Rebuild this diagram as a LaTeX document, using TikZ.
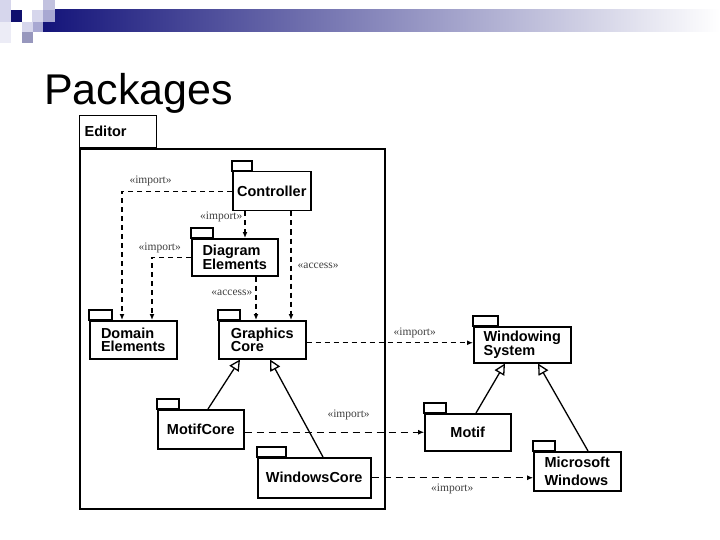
\documentclass[tikz,border=0pt]{standalone}
\usepackage{fontspec}
\setmainfont{Liberation Sans}
\newfontfamily\lblfont{Liberation Serif}
\usetikzlibrary{arrows.meta,calc}
\definecolor{barnavy}{HTML}{14147A}
\definecolor{sqdark}{HTML}{10106E}
\definecolor{sqmid}{HTML}{A8A8D2}
\definecolor{sqlight}{HTML}{D6D6EC}
\definecolor{sqpale}{HTML}{ECECF6}
\tikzset{
  >=Latex,
  title/.style={anchor=base west,inner sep=0pt,font=\fontsize{43}{43}\selectfont},
  edbox/.style={draw,line width=1.7pt,anchor=north west,inner sep=0pt},
  edtab/.style={draw,line width=1.4pt,anchor=south west,align=left,inner xsep=5pt,text width=67pt,
    font=\fontsize{14.5}{14}\selectfont\bfseries},
  pkg/.style={draw,line width=1.5pt,fill=white,anchor=north west,align=left,inner sep=2pt,
    font=\fontsize{14.5}{13.5}\selectfont\bfseries},
  pkgtab/.style={draw,line width=1.1pt,fill=white},
  dep/.style={-{Latex[length=6pt,width=5pt]},line width=1.4pt,dash pattern=on 5pt off 4pt},
  thindep/.style={-{Latex[length=6pt,width=5pt]},line width=0.8pt,dash pattern=on 7pt off 5pt},
  gen/.style={-{Triangle[open,length=11pt,width=11pt]},line width=1.3pt},
  lbl/.style={font=\lblfont\fontsize{11.5}{11.5}\selectfont,text=black!75,inner sep=1pt},
}
\begin{document}
\begin{tikzpicture}[x=1pt,y=-1pt]
\useasboundingbox (0,0) rectangle (720,540);
% slide header
\shade[left color=barnavy,right color=white] (43,10) rectangle (720,32);
\fill[sqlight] (0,0) rectangle (11,10);
\fill[sqmid!70] (43,0) rectangle (55,10);
\fill[sqlight] (0,10) rectangle (11,22);
\fill[sqdark] (11,10) rectangle (22,22);
\fill[sqlight] (32,10) rectangle (43,22);
\fill[sqmid] (43,10) rectangle (55,22);
\fill[sqpale] (0,22) rectangle (11,43);
\fill[sqlight] (22,22) rectangle (33,32);
\fill[sqmid] (33,22) rectangle (43,32);
\fill[sqmid!90!black] (22,32) rectangle (33,43);
\node[title] (title) at (44,105) {Packages};

% editor package
\node[edbox,minimum width=305pt,minimum height=360pt] (editor) at (79,148) {};
\node[edtab,minimum height=32pt] (edtab) at (editor.north west) {Editor};

% packages
\node[pkg,minimum width=78pt,minimum height=39pt] (ctrl) at (232,171) {Controller};
\node[pkg,minimum width=86pt,minimum height=37pt] (diag) at (191,238) {Diagram\\Elements};
\node[pkg,minimum width=87pt,minimum height=38pt] (domain) at (89,320) {Domain\\Elements};
\node[pkg,minimum width=87pt,minimum height=38pt] (gcore) at (218,320) {Graphics\\Core};
\node[pkg,minimum width=86pt,minimum height=39pt] (motifcore) at (157,409) {MotifCore};
\node[pkg,minimum width=113pt,minimum height=40pt] (wincore) at (257,457) {WindowsCore};
\node[pkg,minimum width=97pt,minimum height=36pt] (winsys) at (473,326) {Windowing\\System};
\node[pkg,minimum width=86pt,minimum height=37pt] (motif) at (424,413) {Motif};
\node[pkg,minimum width=87pt,minimum height=39pt] (mswin) at (533,451) {Microsoft\\[5pt]Windows};

\foreach \p/\w in {ctrl/20,diag/22,domain/23,gcore/22,motifcore/22,wincore/29,winsys/25,motif/22,mswin/22}
  \draw[pkgtab] (\p.north west) rectangle ++(\w,-10);

% dependencies
\coordinate (ctrlA) at ($(ctrl.south west)+(13,0)$);
\coordinate (ctrlB) at ($(ctrl.south west)+(59,0)$);
\coordinate (diagA) at ($(diag.south west)+(65,0)$);
\coordinate (gcoreA) at ($(gcore.east)+(0,3)$);
\draw[dep] (ctrl.west) -| node[lbl,above=4pt,pos=0.37]{«import»} ($(domain.north west)+(33,0)$);
\draw[dep] (ctrlA) -- node[lbl,left=1pt,pos=0.2]{«import»} (ctrlA |- diag.north);
\draw[dep] (diag.west) -| node[lbl,above=3pt,pos=0.4]{«import»} ($(domain.north west)+(63,0)$);
\draw[dep] (diagA) -- node[lbl,left=2pt,pos=0.38]{«access»} (diagA |- gcore.north);
\draw[dep] (ctrlB) -- node[lbl,right=5pt,pos=0.5]{«access»} (ctrlB |- gcore.north);
\draw[dep] (gcoreA) -- node[lbl,above=3pt,pos=0.65]{«import»} (gcoreA -| winsys.west);
\draw[thindep] (motifcore.east |- motif.west) -- node[lbl,above=11pt,pos=0.58]{«import»} (motif.west);
\draw[thindep] (wincore.east) -- node[lbl,below=5pt,pos=0.5]{«import»} (wincore.east -| mswin.west);

% generalizations
\draw[gen] ($(motifcore.north west)+(51,0)$) -- ($(gcore.south west)+(22,0)$);
\draw[gen] ($(wincore.north west)+(66,0)$) -- ($(gcore.south west)+(52,0)$);
\draw[gen] ($(motif.north west)+(52,0)$) -- ($(winsys.south west)+(32,0)$);
\draw[gen] ($(mswin.north west)+(55,0)$) -- ($(winsys.south west)+(65,0)$);
\end{tikzpicture}
\end{document}
